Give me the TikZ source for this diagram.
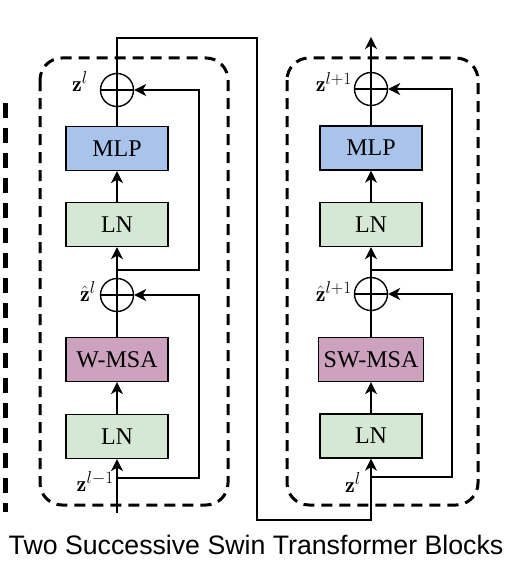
\documentclass[tikz,border=0pt]{standalone}
\usepackage{fontspec}
\usetikzlibrary{arrows.meta,calc}
\newfontfamily\boxfont{Liberation Serif}
\newfontfamily\capfont{Liberation Sans}
\DeclareMathSizes{22}{22}{18}{13}
\definecolor{mlpblue}{HTML}{A9C4EB}
\definecolor{lngreen}{HTML}{D5E8D4}
\definecolor{msapurple}{HTML}{CDA2BE}
\tikzset{
  blk/.style={draw=black, line width=1.3pt, minimum width=102pt, minimum height=44pt, inner sep=0pt, font=\boxfont\fontsize{24}{28}\selectfont},
  addc/.style={draw=black, line width=1.4pt, circle, minimum size=33pt, inner sep=0pt},
  conn/.style={line width=1.5pt},
  arr/.style={line width=1.5pt, -{Stealth[length=12pt,width=12pt,inset=3.5pt]}},
  dbox/.style={line width=3pt, dash pattern=on 11pt off 7pt, rounded corners=22pt},
  lbl/.style={font=\fontsize{22}{26}\selectfont, inner sep=0pt, anchor=base east}
}
\newcommand\crossin[1]{\draw[line width=1.4pt] (#1.north) -- (#1.south) (#1.west) -- (#1.east);}
\begin{document}
\begin{tikzpicture}[x=1pt,y=-1pt]
\useasboundingbox (0,0) rectangle (523,578);
% outer partial thick dashes
\draw[line width=5pt, dash pattern=on 15pt off 10pt] (5.5,103) -- (5.5,512);
% dashed boxes
\draw[dbox] (40,58) rectangle (228,505);
\draw[dbox] (287,58) rectangle (478,505);
% left block
\node[blk, fill=lngreen] (ln1) at (117,436.5) {LN};
\node[blk, fill=msapurple] (wmsa) at (117,359.5) {W-MSA};
\node[addc] (add1) at (117,295) {};
\node[blk, fill=lngreen] (ln2) at (117,224.5) {LN};
\node[blk, fill=mlpblue] (mlp1) at (117,148.5) {MLP};
\node[addc] (add2) at (117,90) {};
\crossin{add1}
\crossin{add2}
\coordinate (in1) at (117,513);
\coordinate (br1) at (117,478);
\coordinate (br2) at (117,270);
\draw[arr] (in1) -- (ln1.south);
\draw[arr] (ln1.north) -- (wmsa.south);
\draw[conn] (wmsa.north) -- (add1.south);
\draw[arr] (add1.north) -- (ln2.south);
\draw[arr] (ln2.north) -- (mlp1.south);
\draw[conn] (mlp1.north) -- (add2.south);
\draw[arr] (br1) -| (199,295) -- (add1.east);
\draw[arr] (br2) -| (199,90) -- (add2.east);
% right block
\node[blk, fill=lngreen] (ln3) at (371,436) {LN};
\node[blk, fill=msapurple, minimum width=105pt] (swmsa) at (371,359.5) {SW-MSA};
\node[addc] (add3) at (371,294) {};
\node[blk, fill=lngreen] (ln4) at (371,224.5) {LN};
\node[blk, fill=mlpblue] (mlp2) at (371,148) {MLP};
\node[addc] (add4) at (371,89) {};
\crossin{add3}
\crossin{add4}
\coordinate (br3) at (371,477);
\coordinate (br4) at (371,270);
\coordinate (out) at (371,37);
\draw[arr] (add2.north) -- (117,38) -- (257,38) -- (257,520) -- (371,520) -- (ln3.south);
\draw[arr] (ln3.north) -- (swmsa.south);
\draw[conn] (swmsa.north) -- (add3.south);
\draw[arr] (add3.north) -- (ln4.south);
\draw[arr] (ln4.north) -- (mlp2.south);
\draw[conn] (mlp2.north) -- (add4.south);
\draw[arr] (add4.north) -- (out);
\draw[arr] (br3) -| (452,294) -- (add3.east);
\draw[arr] (br4) -| (452,89) -- (add4.east);
% labels
\node[lbl] (l1) at (88,91) {$\mathbf{z}^{l}$};
\node[lbl] (l2) at (96,301) {$\hat{\mathbf{z}}^{l}$};
\node[lbl] (l3) at (114,491) {$\mathbf{z}^{l-1}$};
\node[lbl] (l4) at (352,92) {$\mathbf{z}^{l+1}$};
\node[lbl] (l5) at (352,301) {$\hat{\mathbf{z}}^{l+1}$};
\node[lbl] (l6) at (361,492) {$\mathbf{z}^{l}$};
% caption
\node[font=\capfont\fontsize{26.7}{30}\selectfont, anchor=base, inner sep=0pt] (cap) at (256,554) {Two Successive Swin Transformer Blocks};
\end{tikzpicture}
\end{document}
